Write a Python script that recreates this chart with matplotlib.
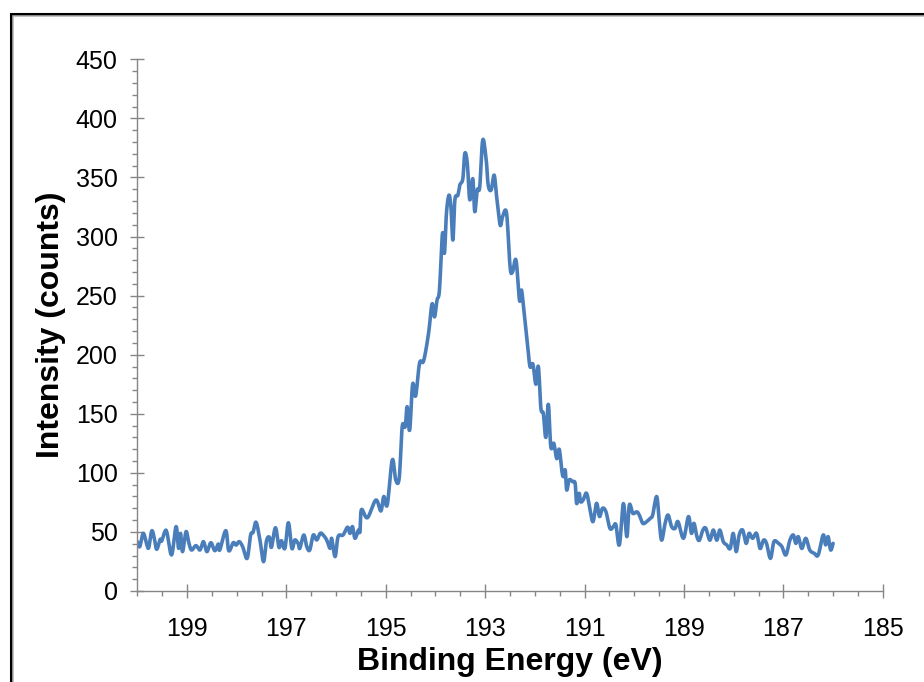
import numpy as np
import matplotlib
matplotlib.use("Agg")
import matplotlib.pyplot as plt
from matplotlib.lines import Line2D
from matplotlib.ticker import FixedLocator, MultipleLocator

plt.rcParams['font.family'] = ['Liberation Sans', 'DejaVu Sans']

# Binding energy (eV) and intensity (counts)
energy = [
    200.00, 199.95, 199.88, 199.81, 199.77, 199.71, 199.66, 199.61, 199.54, 199.51,
    199.44, 199.40, 199.31, 199.22, 199.17, 199.13, 199.09, 199.02, 198.97, 198.91,
    198.82, 198.74, 198.67, 198.60, 198.52, 198.44, 198.37, 198.34, 198.22, 198.16,
    198.07, 198.01, 197.95, 197.88, 197.79, 197.72, 197.67, 197.61, 197.53, 197.46,
    197.40, 197.34, 197.30, 197.22, 197.15, 197.10, 197.03, 196.96, 196.89, 196.83,
    196.76, 196.73, 196.65, 196.59, 196.53, 196.46, 196.39, 196.32, 196.26, 196.19,
    196.12, 196.09, 196.02, 195.96, 195.86, 195.77, 195.72, 195.67, 195.62, 195.55,
    195.52, 195.49, 195.37, 195.20, 195.10, 195.04, 194.97, 194.87, 194.80, 194.73,
    194.67, 194.61, 194.57, 194.52, 194.46, 194.40, 194.32, 194.24, 194.14, 194.07,
    194.02, 193.97, 193.92, 193.86, 193.82, 193.78, 193.73, 193.69, 193.65, 193.61,
    193.55, 193.51, 193.45, 193.41, 193.36, 193.31, 193.25, 193.21, 193.16, 193.11,
    193.05, 192.98, 192.94, 192.88, 192.82, 192.77, 192.70, 192.65, 192.57, 192.50,
    192.45, 192.38, 192.31, 192.27, 192.23, 192.20, 192.15, 192.10, 192.04, 191.98,
    191.93, 191.88, 191.83, 191.78, 191.73, 191.68, 191.62, 191.56, 191.51, 191.46,
    191.43, 191.39, 191.36, 191.31, 191.24, 191.19, 191.16, 191.11, 191.08, 191.03,
    190.96, 190.89, 190.83, 190.76, 190.70, 190.64, 190.57, 190.49, 190.42, 190.37,
    190.30, 190.22, 190.15, 190.10, 190.03, 189.95, 189.90, 189.83, 189.75, 189.68,
    189.63, 189.55, 189.50, 189.45, 189.38, 189.32, 189.25, 189.18, 189.12, 189.01,
    188.91, 188.85, 188.80, 188.74, 188.69, 188.62, 188.56, 188.48, 188.41, 188.34,
    188.28, 188.21, 188.14, 188.07, 188.01, 187.95, 187.89, 187.82, 187.75, 187.69,
    187.62, 187.54, 187.47, 187.40, 187.34, 187.26, 187.19, 187.10, 187.03, 186.95,
    186.87, 186.80, 186.75, 186.70, 186.63, 186.55, 186.47, 186.38, 186.30, 186.20,
    186.15, 186.10, 186.05, 186.00,
]
counts = [
    41.8, 37.5, 48.8, 39.5, 36.7, 50.8, 45.1, 35.3, 43.7, 42.3,
    50.8, 48.8, 30.5, 54.5, 36.1, 48.8, 33.3, 50.2, 41.8, 34.7,
    38.4, 34.7, 41.8, 33.3, 40.9, 34.1, 39.8, 34.7, 51.1, 34.1,
    40.9, 38.9, 41.8, 37.5, 27.6, 47.4, 49.7, 58.2, 42.6, 24.8,
    42.6, 45.4, 37.0, 53.6, 37.0, 42.6, 36.1, 57.8, 36.1, 43.2,
    39.8, 36.1, 47.4, 37.5, 34.7, 47.4, 43.2, 48.8, 47.4, 43.2,
    36.1, 44.6, 29.1, 46.0, 47.4, 54.0, 48.8, 54.5, 44.6, 51.6,
    50.2, 68.9, 62.0, 77.0, 67.7, 80.0, 73.0, 111.0, 94.0, 95.6,
    139.0, 139.0, 156.0, 136.0, 175.0, 165.0, 193.0, 194.6, 218.0, 243.0,
    232.0, 246.0, 255.0, 302.7, 285.8, 319.7, 335.0, 325.0, 297.0, 331.0,
    335.0, 343.6, 349.0, 370.4, 362.0, 331.0, 349.0, 321.0, 339.4, 342.0,
    381.7, 364.8, 343.6, 339.4, 352.0, 333.7, 309.8, 316.8, 319.7, 274.5,
    270.0, 280.0, 246.0, 254.7, 240.6, 229.4, 210.0, 190.0, 192.0, 175.0,
    190.0, 155.0, 150.0, 130.0, 158.0, 122.0, 125.0, 112.0, 120.0, 102.4,
    96.8, 102.4, 85.5, 94.0, 92.5, 91.0, 74.0, 82.7, 75.6, 77.0,
    82.7, 68.6, 58.7, 74.2, 63.0, 70.0, 67.0, 53.0, 54.5, 56.0,
    39.0, 74.0, 46.0, 72.8, 65.7, 67.0, 64.3, 57.3, 58.7, 61.5,
    64.3, 80.0, 60.0, 43.0, 57.3, 64.3, 54.5, 53.0, 58.7, 44.6,
    63.0, 48.8, 57.3, 46.0, 43.0, 51.6, 53.0, 43.0, 51.6, 43.0,
    51.6, 41.8, 39.0, 36.0, 48.8, 33.3, 47.4, 51.6, 40.3, 48.8,
    44.6, 48.8, 36.0, 43.0, 40.3, 27.6, 41.8, 40.3, 37.5, 30.5,
    43.0, 47.4, 40.3, 46.0, 36.0, 44.6, 34.7, 31.9, 30.5, 47.4,
    39.0, 46.0, 34.7, 40.3,
]

x_major = [199, 197, 195, 193, 191, 189, 187, 185]
x_labels = ['199', '197', '195', '193', '191', '189', '187', '185']
x_minor = [v for v in np.arange(185, 200.01, 0.5) if v not in x_major]


def smooth_line(xs, ys, n=8):
    """Catmull-Rom style smoothing like a spreadsheet 'smoothed line'."""
    x = np.asarray(xs, float)
    y = np.asarray(ys, float)
    px = np.concatenate([[x[0]], x, [x[-1]]])
    py = np.concatenate([[y[0]], y, [y[-1]]])
    outx, outy = [], []
    t = np.linspace(0, 1, n, endpoint=False)
    for i in range(1, len(px) - 2):
        p0x, p1x, p2x, p3x = px[i - 1:i + 3]
        p0y, p1y, p2y, p3y = py[i - 1:i + 3]
        t2, t3 = t * t, t * t * t
        bx = 0.5 * ((2 * p1x) + (-p0x + p2x) * t + (2 * p0x - 5 * p1x + 4 * p2x - p3x) * t2
                    + (-p0x + 3 * p1x - 3 * p2x + p3x) * t3)
        by = 0.5 * ((2 * p1y) + (-p0y + p2y) * t + (2 * p0y - 5 * p1y + 4 * p2y - p3y) * t2
                    + (-p0y + 3 * p1y - 3 * p2y + p3y) * t3)
        outx.extend(bx)
        outy.extend(by)
    outx.append(x[-1])
    outy.append(y[-1])
    return np.array(outx), np.array(outy)


W, H = 924, 682
fig = plt.figure(figsize=(W / 100, H / 100), dpi=100)
ax = fig.add_axes([137.3 / W, 1 - 591 / H, (882.8 - 137.3) / W, (591 - 59.3) / H])

line_color = '#4A7EBB'
sx, sy = smooth_line(energy, counts)
ax.plot(sx, sy, color=line_color, lw=2.6, solid_joinstyle='round',
        solid_capstyle='round')

ax.set_xlim(200, 185)
ax.set_ylim(0, 450)

ax.xaxis.set_major_locator(FixedLocator(x_major))
ax.set_xticklabels(x_labels)
ax.xaxis.set_minor_locator(FixedLocator(x_minor))
ax.yaxis.set_major_locator(MultipleLocator(50))
ax.yaxis.set_minor_locator(MultipleLocator(10))

grey = '#868686'
for s in ['top', 'right']:
    ax.spines[s].set_visible(False)
for s in ['left', 'bottom']:
    ax.spines[s].set_color(grey)
    ax.spines[s].set_linewidth(1.0)

ax.tick_params(axis='both', which='major', direction='inout', length=10.5,
               width=1.0, color=grey, labelsize=18, pad=9)
ax.tick_params(axis='both', which='minor', direction='out', length=3.5,
               width=1.0, color=grey)
ax.tick_params(axis='x', which='major', pad=13.5)

ax.set_xlabel('Binding Energy (eV)', fontsize=23, fontweight='bold', labelpad=4.5)
ax.set_ylabel('Intensity (counts)', fontsize=23, fontweight='bold', labelpad=6.5)

# chart-area frame (black border with grey inner shadow), clipped at right/bottom
fig.add_artist(Line2D([10.5 / W, 10.5 / W, 1.0], [0.0, 1 - 13.5 / H, 1 - 13.5 / H],
                      transform=fig.transFigure, color='black', lw=2.2,
                      solid_joinstyle='miter'))
fig.add_artist(Line2D([12.8 / W, 12.8 / W, 1.0], [0.0, 1 - 15.6 / H, 1 - 15.6 / H],
                      transform=fig.transFigure, color='#b5b5b5', lw=1.1,
                      solid_joinstyle='miter'))

fig.savefig('out.png', dpi=100)
